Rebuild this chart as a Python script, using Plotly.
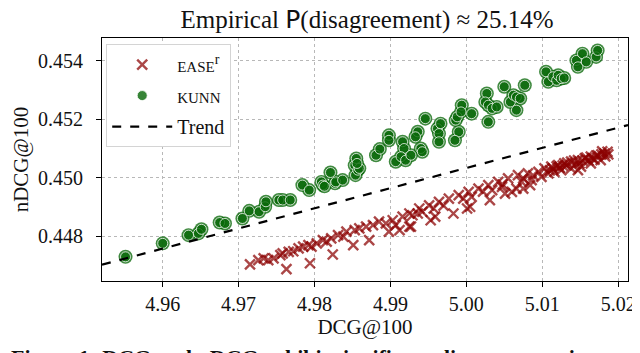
import plotly.graph_objects as go

# KUNN (green circles)
kunn_dcg = [4.9551, 4.9600, 4.9634, 4.9647, 4.9651, 4.9675, 4.9682, 4.9705, 4.9714, 4.9727,
            4.9735, 4.9736, 4.9753, 4.9758, 4.9768, 4.9784, 4.9793, 4.9809, 4.9811, 4.9813,
            4.9821, 4.9827, 4.9828, 4.9837, 4.9853, 4.9855, 4.9854, 4.9857, 4.9859, 4.9856,
            4.9881, 4.9886, 4.9898, 4.9898, 4.9907, 4.9916, 4.9918, 4.9914, 4.9920, 4.9927,
            4.9936, 4.9933, 4.9940, 4.9942, 4.9946, 4.9962, 4.9966, 4.9964, 4.9964, 4.9986,
            4.9988, 4.9990, 4.9985, 4.9994, 4.9993, 5.0007, 5.0027, 5.0025, 5.0029, 5.0034,
            5.0040, 5.0029, 5.0050, 5.0058, 5.0062, 5.0066, 5.0066, 5.0071, 5.0077, 5.0105,
            5.0108, 5.0114, 5.0119, 5.0121, 5.0125, 5.0129, 5.0145, 5.0147, 5.0153, 5.0158,
            5.0171, 5.0173]
kunn_ndcg = [0.44730, 0.44776, 0.44804, 0.44810, 0.44824, 0.44847, 0.44844, 0.44861, 0.44887, 0.44884,
             0.44901, 0.44918, 0.44924, 0.44924, 0.44924, 0.44975, 0.44958, 0.44986, 0.44975, 0.44971,
             0.45018, 0.44981, 0.44986, 0.44992, 0.45043, 0.45066, 0.45009, 0.45026, 0.45032, 0.45049,
             0.45077, 0.45098, 0.45145, 0.45128, 0.45055, 0.45123, 0.45100, 0.45072, 0.45060, 0.45077,
             0.45157, 0.45140, 0.45100, 0.45089, 0.45202, 0.45168, 0.45185, 0.45151, 0.45123, 0.45197,
             0.45208, 0.45157, 0.45128, 0.45248, 0.45225, 0.45219, 0.45288, 0.45259, 0.45248, 0.45237,
             0.45242, 0.45191, 0.45311, 0.45259, 0.45282, 0.45276, 0.45231, 0.45271, 0.45316, 0.45362,
             0.45328, 0.45345, 0.45333, 0.45350, 0.45339, 0.45341, 0.45401, 0.45379, 0.45424, 0.45396,
             0.45413, 0.45435]

# EASE^r (red crosses)
ease_dcg = [4.9715, 4.9726, 4.9733, 4.9739, 4.9746, 4.9755, 4.9758, 4.9763, 4.9766, 4.9772,
            4.9779, 4.9785, 4.9792, 4.9794, 4.9796, 4.9803, 4.9811, 4.9816, 4.9824, 4.9822,
            4.9831, 4.9838, 4.9842, 4.9851, 4.9853, 4.9859, 4.9868, 4.9872, 4.9877, 4.9885,
            4.9894, 4.9898, 4.9903, 4.9907, 4.9912, 4.9916, 4.9925, 4.9929, 4.9936, 4.9942,
            4.9927, 4.9953, 4.9959, 4.9983, 5.0001, 5.0005, 5.0031, 5.0051, 5.0060, 5.0066,
            5.0075, 5.0084, 4.9925, 4.9938, 4.9951, 4.9964, 4.9977, 4.9990, 5.0003, 5.0016,
            5.0029, 5.0042, 5.0055, 5.0068, 5.0081, 5.0095, 5.0103, 5.0112, 5.0121, 5.0129,
            5.0138, 5.0147, 5.0156, 5.0164, 5.0173, 5.0182, 5.0186, 5.0007, 5.0034, 5.0047,
            5.0073, 5.0086, 5.0099, 5.0108, 5.0125, 5.0138, 5.0151, 5.0164, 5.0177, 5.0116,
            5.0147, 5.0110, 5.0119, 5.0127, 5.0133, 5.0142, 5.0149, 5.0158, 5.0166, 5.0171,
            5.0178, 5.0183, 5.0187, 5.0179, 5.0169, 5.0161, 5.0153, 5.0144, 5.0132, 5.0123,
            5.0114, 4.9957, 4.9970, 4.9996, 5.0022, 5.0048, 5.0075, 5.0088]
ease_ndcg = [0.44704, 0.44719, 0.44725, 0.44719, 0.44725, 0.44736, 0.44742, 0.44688, 0.44747, 0.44749,
             0.44759, 0.44765, 0.44770, 0.44708, 0.44765, 0.44776, 0.44787, 0.44782, 0.44738, 0.44793,
             0.44804, 0.44799, 0.44816, 0.44770, 0.44821, 0.44827, 0.44833, 0.44787, 0.44838, 0.44850,
             0.44844, 0.44816, 0.44855, 0.44838, 0.44821, 0.44867, 0.44833, 0.44872, 0.44878, 0.44884,
             0.44833, 0.44855, 0.44867, 0.44878, 0.44895, 0.44901, 0.44924, 0.44946, 0.44952, 0.44963,
             0.44963, 0.44975, 0.44878, 0.44895, 0.44906, 0.44918, 0.44929, 0.44941, 0.44952, 0.44963,
             0.44975, 0.44986, 0.44998, 0.45009, 0.45015, 0.45020, 0.45032, 0.45038, 0.45043, 0.45049,
             0.45055, 0.45060, 0.45066, 0.45072, 0.45077, 0.45083, 0.45089, 0.44935, 0.44958, 0.44969,
             0.44986, 0.44992, 0.45003, 0.45015, 0.45026, 0.45032, 0.45038, 0.45049, 0.45060, 0.45020,
             0.45026, 0.45025, 0.45039, 0.45042, 0.45052, 0.45059, 0.45049, 0.45069, 0.45066, 0.45076,
             0.45080, 0.45073, 0.45080, 0.45090, 0.45062, 0.45059, 0.45059, 0.45046, 0.45042, 0.45035,
             0.45031, 0.44895, 0.44905, 0.44929, 0.44953, 0.44977, 0.44998, 0.45008]

# Trend line endpoints
trend_dcg = [4.9520, 5.0213]
trend_ndcg = [0.44703, 0.45180]

SERIF = "Liberation Serif"
INK = '#111111'

fig = go.Figure()

fig.add_trace(go.Scatter(
    x=ease_dcg, y=ease_ndcg, mode='markers', legendgroup='a',
    name="<span style='font-size:15px'>EASE</span><sup>r</sup>",
    marker=dict(symbol='x-thin', size=10, line=dict(width=2.4, color='rgba(139,0,0,0.72)'))
))

# Outer green disc under the ringed markers
fig.add_trace(go.Scatter(
    x=kunn_dcg, y=kunn_ndcg, mode='markers', showlegend=False, hoverinfo='skip', legendgroup='b',
    marker=dict(symbol='circle', size=14, color='rgba(10,105,10,0.78)', line=dict(width=0))
))
fig.add_trace(go.Scatter(
    x=kunn_dcg, y=kunn_ndcg, mode='markers', legendgroup='b',
    name="<span style='font-size:15px'>KUNN</span>",
    marker=dict(symbol='circle', size=10, color='rgba(10,105,10,0.82)',
                line=dict(width=0.9, color='rgba(255,255,255,0.85)'))
))

fig.add_trace(go.Scatter(
    x=trend_dcg, y=trend_ndcg, mode='lines', name='Trend', legendgroup='c',
    line=dict(color='black', width=2.2, dash='dash')
))

axis_common = dict(
    showline=True, linecolor='black', linewidth=1.2, mirror=True,
    ticks='outside', ticklen=5, tickcolor='black',
    showgrid=True, gridcolor='#b8b8b8', griddash='dot', gridwidth=1,
    zeroline=False, tickfont=dict(family=SERIF, size=20, color=INK),
)

fig.update_xaxes(
    range=[4.9520, 5.0213], tickvals=[4.96, 4.97, 4.98, 4.99, 5.00, 5.01, 5.02],
    ticktext=['4.96', '4.97', '4.98', '4.99', '5.00', '5.01', '5.02'],
    ticklabelstandoff=0,
    title=dict(text='DCG@100', font=dict(family=SERIF, size=21, color=INK), standoff=2),
    **axis_common
)
fig.update_yaxes(
    range=[0.446474, 0.454775], tickvals=[0.448, 0.450, 0.452, 0.454],
    ticktext=['0.448', '0.450', '0.452', '0.454'],
    ticklabelstandoff=9,
    title=dict(text='nDCG@100', font=dict(family=SERIF, size=21, color=INK), standoff=3),
    **axis_common
)

fig.update_layout(
    width=640, height=353,
    margin=dict(l=94, r=16, t=30, b=80),
    paper_bgcolor='white', plot_bgcolor='white',
    title=dict(
        text="Empirical <span style='font-family:DejaVu Sans'>P</span>(disagreement) ≈ 25.14%",
        x=(94 + 624) / 2 / 640, xanchor='center', y=0.993, yanchor='top',
        font=dict(family=SERIF, size=25, color=INK)
    ),
    legend=dict(
        x=0.008, y=0.975, xanchor='left', yanchor='top',
        bgcolor='white', bordercolor='#d4d4d4', borderwidth=1,
        font=dict(family=SERIF, size=20, color=INK),
        itemwidth=60, tracegroupgap=2,
    ),
    showlegend=True,
)

# Caption cut by the image edge
fig.add_annotation(
    text="<b>Figure 1: DCG and nDCG exhibit significant disagreement in</b>",
    xref='paper', yref='paper', x=-94 / 530, y=-(349 - 273) / 243,
    xanchor='left', yanchor='middle', showarrow=False,
    font=dict(family=SERIF, size=22, color=INK)
)

fig.write_html("out.html")
